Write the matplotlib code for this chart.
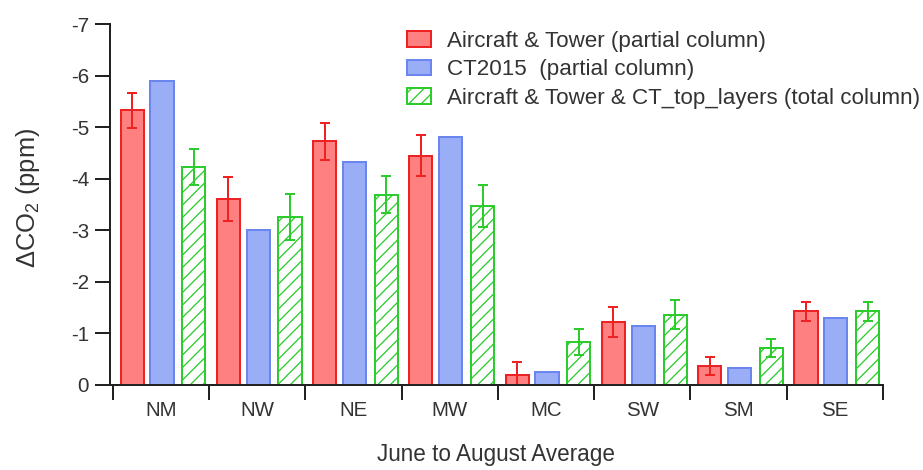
import matplotlib
matplotlib.use("Agg")
import matplotlib.pyplot as plt
import numpy as np

# June-August mean CO2 enhancement per region (ppm, drawn on an inverted axis)
regions = ["NM", "NW", "NE", "MW", "MC", "SW", "SM", "SE"]
obs_partial = [-5.33, -3.61, -4.73, -4.45, -0.19, -1.22, -0.37, -1.43]
obs_partial_err = [0.34, 0.43, 0.36, 0.39, 0.25, 0.29, 0.17, 0.18]
ct_partial = [-5.90, -3.01, -4.33, -4.80, -0.26, -1.15, -0.33, -1.29]
obs_total = [-4.23, -3.26, -3.69, -3.47, -0.83, -1.36, -0.72, -1.43]
obs_total_err = [0.35, 0.44, 0.36, 0.41, 0.25, 0.28, 0.18, 0.18]

labels = ["Aircraft & Tower (partial column)",
          "CT2015  (partial column)",
          "Aircraft & Tower & CT_top_layers (total column)"]

DPI = 75
px = 72.0 / DPI  # points per pixel

plt.rcParams["font.family"] = ["Liberation Sans", "DejaVu Sans"]
plt.rcParams["mathtext.fontset"] = "custom"
plt.rcParams["mathtext.rm"] = "Liberation Sans"
plt.rcParams["axes.unicode_minus"] = False
plt.rcParams["hatch.linewidth"] = 1.3 * px

txt = "#333333"
red_face, red_edge = "#ff8080", "#ee2222"
blue_face, blue_edge = "#99aef7", "#6a86ee"
green = "#2ccc2c"

fig = plt.figure(figsize=(923 / DPI, 470 / DPI), dpi=DPI)
ax = fig.add_axes([110 / 923, 1 - 385 / 470, (883 - 110) / 923, (385 - 24) / 470])

x = np.arange(len(regions))
w = 0.24
lw = 2 * px

ax.bar(x - 0.30, obs_partial, w, color=red_face, edgecolor=red_edge, linewidth=lw,
       yerr=obs_partial_err, label=labels[0],
       error_kw=dict(ecolor=red_edge, elinewidth=lw, capsize=5 * px, capthick=lw))
ax.bar(x + 0.01, ct_partial, w, color=blue_face, edgecolor=blue_edge, linewidth=lw,
       label=labels[1])
ax.bar(x + 0.34, obs_total, w, color="white", edgecolor=green, linewidth=lw,
       hatch="//", yerr=obs_total_err, label=labels[2],
       error_kw=dict(ecolor=green, elinewidth=lw, capsize=5 * px, capthick=lw))

ax.set_xlim(-0.53, 7.5)
ax.set_ylim(0, -7)
ax.set_yticks(np.arange(0, -8, -1))

ax.set_xticks(x)
ax.set_xticklabels(regions)
ax.set_xticks(np.arange(-0.5, 8, 1), minor=True)
ax.tick_params(axis="x", which="major", length=0, pad=16 * px, labelsize=20.5 * px, labelcolor=txt)
ax.tick_params(axis="x", which="minor", length=15 * px, width=2 * px, direction="out", color="#222222")
ax.tick_params(axis="y", length=15 * px, width=2 * px, pad=6 * px, labelsize=20.5 * px,
               labelcolor=txt, color="#222222")

for side in ("top", "right"):
    ax.spines[side].set_visible(False)
for side in ("left", "bottom"):
    ax.spines[side].set_linewidth(2 * px)
    ax.spines[side].set_color("#222222")

ax.set_ylabel("ΔCO$_{\\mathregular{2}}$ (ppm)", fontsize=25.5 * px, color=txt, labelpad=18 * px)
ax.yaxis.set_label_coords(28 / 923, 1 - 198 / 470, transform=fig.transFigure)
ax.set_xlabel("June to August Average", fontsize=22.5 * px, color=txt)
ax.xaxis.set_label_coords(496 / 923, 1 - 455 / 470, transform=fig.transFigure)
ax.xaxis.label.set_va("center")
ax.yaxis.label.set_va("center")

leg = ax.legend(loc="upper left", bbox_to_anchor=(407 / 923, 1 - 31 / 470),
                bbox_transform=fig.transFigure, frameon=False, fontsize=22.4 * px,
                borderpad=0, borderaxespad=0, handlelength=1.08, handleheight=0.68,
                handletextpad=0.71, labelspacing=0.33)
for t in leg.get_texts():
    t.set_color(txt)

fig.savefig("out.png", dpi=DPI)
